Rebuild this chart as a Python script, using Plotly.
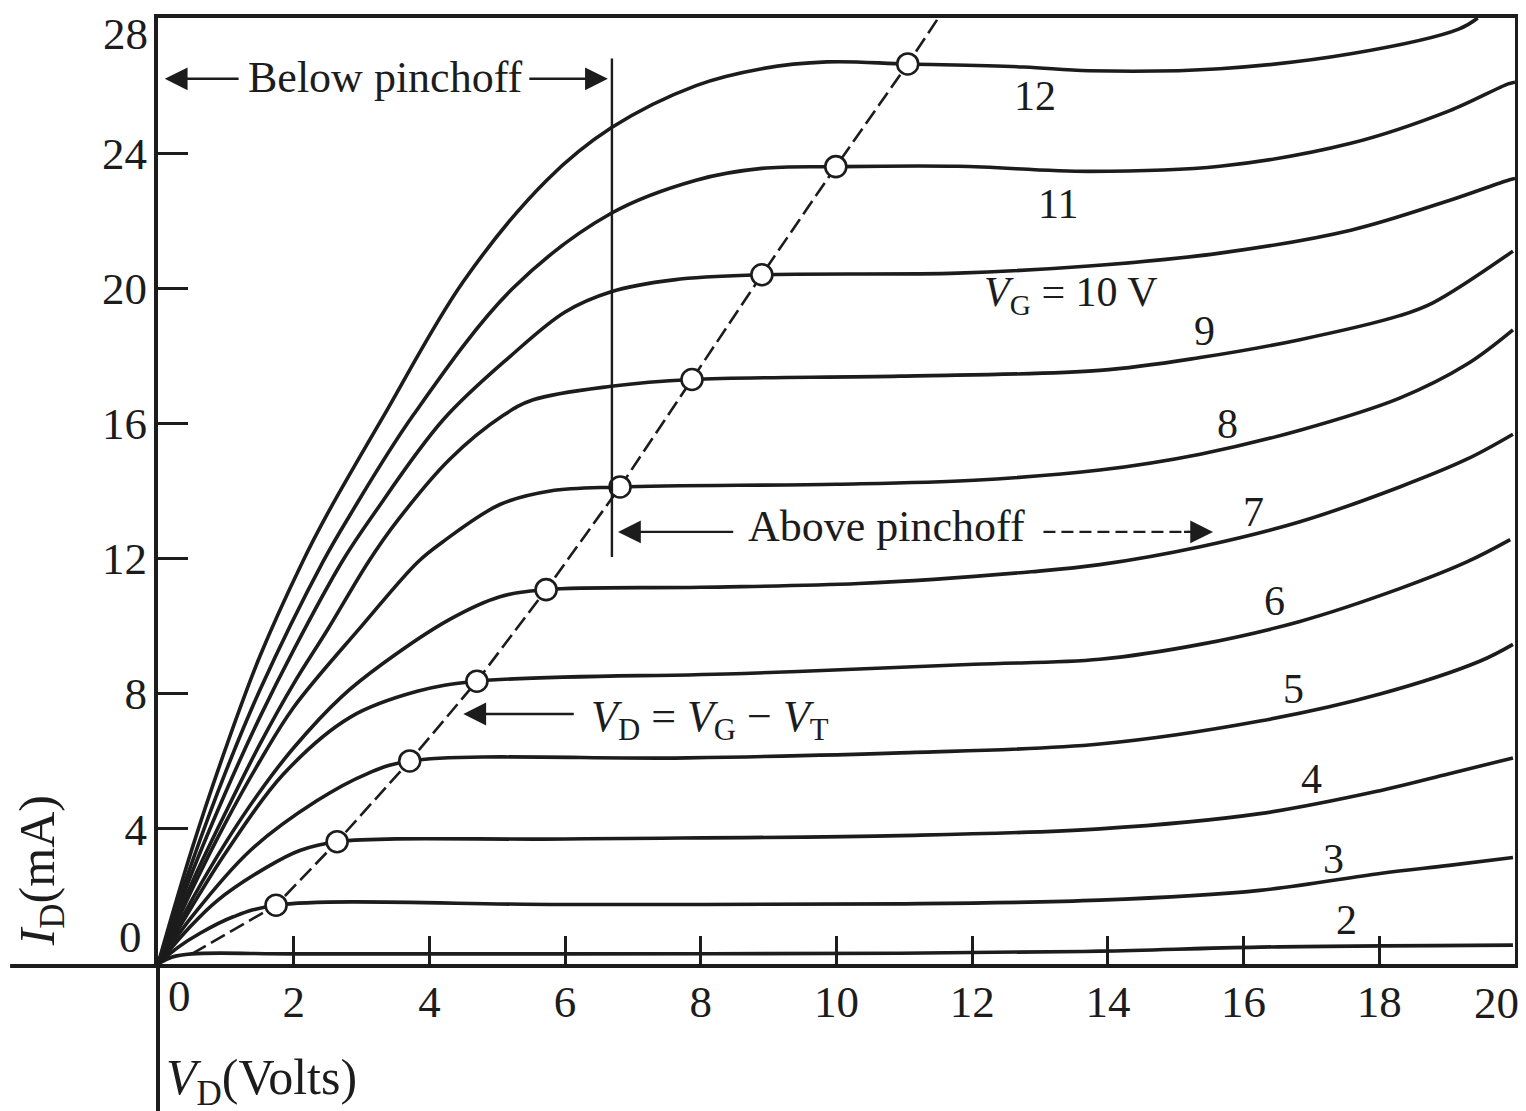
import plotly.graph_objects as go

# ---------------- data ----------------
vd_vg2 = [0, 0.2, 0.5, 2.0, 6.0, 10.94, 13.88, 16.24, 19.97]
id_vg2 = [0, 0.2, 0.3, 0.3, 0.3, 0.32, 0.38, 0.5, 0.56]

vd_vg3 = [0, 0.3, 0.62, 1.1, 1.74, 6.0, 10.94, 13.88, 16.24, 18.01, 19.03, 19.97]
id_vg3 = [0, 0.5, 0.91, 1.39, 1.74, 1.76, 1.78, 1.89, 2.18, 2.68, 2.92, 3.15]

vd_vg4 = [0, 0.45, 0.87, 1.6, 2.09, 2.64, 6.0, 10.94, 13.88, 16.24, 18.01, 19.03, 19.97]
id_vg4 = [0, 1.05, 1.87, 2.86, 3.36, 3.62, 3.7, 3.8, 4.0, 4.45, 5.13, 5.63, 6.1]

vd_vg5 = [0, 0.5, 1.36, 2.34, 3.08, 3.71, 7.8, 10.94, 13.88, 16.24, 18.01, 19.48, 19.97]
id_vg5 = [0, 1.4, 3.36, 4.83, 5.63, 6.01, 6.1, 6.25, 6.51, 7.19, 7.99, 8.96, 9.46]

vd_vg6 = [0, 0.5, 1.0, 1.84, 2.83, 3.82, 4.70, 8.64, 12.03, 13.88, 15.36, 16.83, 18.3, 19.29, 19.93]
id_vg6 = [0, 1.7, 3.3, 5.6, 7.3, 8.07, 8.37, 8.6, 8.87, 9.02, 9.46, 10.14, 11.11, 11.9, 12.56]

vd_vg7 = [0, 0.5, 1.0, 1.5, 2.0, 2.7, 3.32, 4.3, 5.04, 5.72, 8.0, 10.33, 12.87, 13.88, 15.36, 16.83, 18.3, 19.29, 19.97]
id_vg7 = [0, 1.9, 3.6, 5.1, 6.4, 7.9, 8.9, 10.2, 10.87, 11.08, 11.15, 11.26, 11.61, 11.82, 12.35, 13.09, 14.12, 14.94, 15.68]

vd_vg8 = [0, 0.5, 1.0, 1.5, 2.0, 3.0, 3.83, 4.2, 5.04, 5.78, 6.81, 10.0, 12.03, 13.88, 15.36, 16.83, 18.3, 19.29, 19.97]
id_vg8 = [0, 2.2, 4.2, 6.0, 7.6, 10.0, 11.9, 12.5, 13.6, 14.0, 14.12, 14.2, 14.32, 14.62, 15.09, 15.8, 16.75, 17.75, 18.77]

vd_vg9 = [0, 0.5, 1.0, 1.5, 2.0, 2.5, 3.10, 3.52, 4.30, 5.09, 5.53, 6.68, 7.87, 10.94, 13.88, 15.36, 16.83, 18.3, 18.79, 19.97]
id_vg9 = [0, 2.4, 4.5, 6.5, 8.3, 9.9, 11.9, 13.1, 14.94, 16.24, 16.7, 17.1, 17.3, 17.4, 17.57, 17.95, 18.48, 19.19, 19.57, 21.1]

vd_vg10 = [0, 0.5, 1.0, 1.5, 2.0, 2.71, 3.17, 4.2, 5.2, 6.0, 6.68, 7.6, 8.9, 11.79, 13.72, 15.65, 17.58, 19.03, 19.9, 20.0]
id_vg10 = [0, 2.7, 5.1, 7.3, 9.3, 11.9, 13.29, 16.1, 18.0, 19.3, 19.9, 20.25, 20.4, 20.45, 20.66, 21.04, 21.72, 22.6, 23.2, 23.25]

vd_vg11 = [0, 0.5, 1.0, 1.5, 2.43, 2.83, 3.76, 5.23, 6.68, 7.93, 8.9, 10.0, 11.79, 13.72, 15.65, 17.58, 19.03, 19.9, 20.0]
id_vg11 = [0, 3.0, 5.7, 8.1, 11.9, 13.29, 16.24, 20.0, 22.22, 23.2, 23.55, 23.6, 23.61, 23.46, 23.61, 24.29, 25.25, 26.05, 26.1]

vd_vg12 = [0, 0.5, 1.0, 1.5, 2.13, 2.49, 3.32, 4.5, 5.73, 6.68, 7.93, 8.9, 9.86, 11.05, 12.76, 13.72, 15.65, 17.58, 19.17, 19.45]
id_vg12 = [0, 3.4, 6.4, 9.1, 11.9, 13.3, 16.2, 20.2, 23.2, 24.75, 26.0, 26.5, 26.7, 26.64, 26.55, 26.44, 26.5, 26.94, 27.67, 28.0]

curves_vd = [vd_vg2, vd_vg3, vd_vg4, vd_vg5, vd_vg6, vd_vg7, vd_vg8, vd_vg9, vd_vg10, vd_vg11, vd_vg12]
curves_id = [id_vg2, id_vg3, id_vg4, id_vg5, id_vg6, id_vg7, id_vg8, id_vg9, id_vg10, id_vg11, id_vg12]

# pinch-off locus (V_D = V_G - V_T) and marked points
locus_vd = [0.5, 1.74, 2.64, 3.71, 4.70, 5.72, 6.81, 7.87, 8.9, 9.99, 11.05, 11.5]
locus_id = [0.3, 1.74, 3.62, 6.01, 8.37, 11.08, 14.12, 17.3, 20.4, 23.6, 26.64, 28.0]
circle_vd = [1.74, 2.64, 3.71, 4.70, 5.72, 6.81, 7.87, 8.9, 9.99, 11.05]
circle_id = [1.74, 3.62, 6.01, 8.37, 11.08, 14.12, 17.3, 20.4, 23.6, 26.64]

# curve labels
label_text = ["2", "3", "4", "5", "6", "7", "8", "9", "<i>V</i><sub>G</sub> = 10 V", "11", "12"]
label_vd = [17.52, 17.32, 17.0, 16.73, 16.46, 16.14, 15.77, 15.43, 13.45, 13.26, 12.93]
label_id = [1.3, 3.12, 5.48, 8.13, 10.73, 13.38, 15.97, 18.74, 19.8, 22.5, 25.7]

x_tickvals = [2, 4, 6, 8, 10, 12, 14, 16, 18]
x_ticktext = ["2", "4", "6", "8", "10", "12", "14", "16", "18"]
y_tickvals = [4, 8, 12, 16, 20, 24]
y_ticktext = ["4", "8", "12", "16", "20", "24"]

pinchoff_vd = 6.69  # vertical divider

FONT = "Liberation Serif"
INK = "#1c1c1c"

fig = go.Figure()

for vd, idv in zip(curves_vd, curves_id):
    fig.add_trace(go.Scatter(x=vd, y=idv, mode="lines",
                             line=dict(color=INK, width=3.6, shape="spline", smoothing=1.0),
                             showlegend=False, hoverinfo="skip"))

fig.add_trace(go.Scatter(x=locus_vd, y=locus_id, mode="lines",
                         line=dict(color=INK, width=2.6, dash="16px,6px"),
                         showlegend=False, hoverinfo="skip"))
fig.add_trace(go.Scatter(x=circle_vd, y=circle_id, mode="markers",
                         marker=dict(symbol="circle", size=21, color="white",
                                     line=dict(color=INK, width=2.6)),
                         showlegend=False, hoverinfo="skip"))

# vertical pinch-off divider
fig.add_shape(type="line", xref="x", yref="y", x0=pinchoff_vd, x1=pinchoff_vd, y0=12.05, y1=26.8,
              line=dict(color=INK, width=2.4))

# extended axes (cross at origin)
fig.add_shape(type="line", xref="paper", yref="paper", x0=-0.109, x1=0, y0=-0.002, y1=-0.002,
              line=dict(color=INK, width=4))
fig.add_shape(type="line", xref="paper", yref="paper", x0=0, x1=0, y0=0, y1=-0.16,
              line=dict(color=INK, width=4))

# dashed part of the "Above pinchoff" arrow
fig.add_shape(type="line", xref="x", yref="y", x0=13.05, x1=15.2, y0=12.79, y1=12.79,
              line=dict(color=INK, width=2.4, dash="12px,6px"))

ann = []
tfont = dict(family=FONT, size=42, color=INK)
big = dict(family=FONT, size=44, color=INK)
title_font = dict(family=FONT, size=50, color=INK)
ctr = dict(xanchor="center", yanchor="middle", showarrow=False)

for t, x, y in zip(label_text, label_vd, label_id):
    ann.append(dict(x=x, y=y, xref="x", yref="y", text=t, font=tfont, **ctr))

ann.append(dict(x=3.35, y=26.25, xref="x", yref="y", text="Below pinchoff", font=big, **ctr))
ann.append(dict(x=10.74, y=12.95, xref="x", yref="y", text="Above pinchoff", font=big, **ctr))
ann.append(dict(x=8.14, y=7.25, xref="x", yref="y",
                text="<i>V</i><sub>D</sub> = <i>V</i><sub>G</sub> − <i>V</i><sub>T</sub>",
                font=big, **ctr))

arrow_common = dict(xref="x", yref="y", axref="x", ayref="y", text="", showarrow=True,
                    arrowhead=2, arrowsize=1.9, arrowwidth=2.4, arrowcolor=INK)
ann.append(dict(x=0.1, y=26.2, ax=1.21, ay=26.2, **arrow_common))
ann.append(dict(x=6.63, y=26.2, ax=5.45, ay=26.2, **arrow_common))
ann.append(dict(x=6.78, y=12.79, ax=8.5, ay=12.79, **arrow_common))
ann.append(dict(x=15.55, y=12.79, ax=15.1, ay=12.79, **arrow_common))
ann.append(dict(x=4.5, y=7.4, ax=6.15, ay=7.4, **arrow_common))

# axis titles
ann.append(dict(x=-0.0862, y=0.098, xref="paper", yref="paper", text="<i>I</i><sub>D</sub>(mA)",
                textangle=-90, font=title_font, **ctr))
ann.append(dict(x=0.0766, y=-0.124, xref="paper", yref="paper", text="<i>V</i><sub>D</sub>(Volts)",
                font=title_font, **ctr))

# end tick labels (set inward in the original)
tick_font = dict(family=FONT, size=45, color=INK)
ann.append(dict(x=-0.0206, y=0.0284, xref="paper", yref="paper", text="0", font=tick_font, **ctr))
ann.append(dict(x=-0.0236, y=0.983, xref="paper", yref="paper", text="28", font=tick_font, **ctr))
ann.append(dict(x=0.0155, y=-0.0337, xref="paper", yref="paper", text="0", font=tick_font, **ctr))
ann.append(dict(x=0.986, y=-0.041, xref="paper", yref="paper", text="20", font=tick_font, **ctr))

# page body has an 8 px margin, so the figure is 8 px smaller and margins shifted
fig.update_layout(
    width=1518, height=1103,
    margin=dict(l=150, r=11, t=6, b=147),
    paper_bgcolor="white", plot_bgcolor="white",
    annotations=ann,
    xaxis=dict(range=[0, 20], showgrid=False, zeroline=False, showline=True, mirror=True,
               linecolor=INK, linewidth=4, ticks="inside", ticklen=28, tickwidth=2.5, tickcolor=INK,
               tickvals=x_tickvals, ticktext=x_ticktext, ticklabelstandoff=-5,
               tickfont=tick_font),
    yaxis=dict(range=[0, 28], showgrid=False, zeroline=False, showline=True, mirror=True,
               linecolor=INK, linewidth=4, ticks="inside", ticklen=30, tickwidth=2.5, tickcolor=INK,
               tickvals=y_tickvals, ticktext=y_ticktext, ticklabelstandoff=-2,
               tickfont=tick_font),
)

fig.write_html("out.html")
